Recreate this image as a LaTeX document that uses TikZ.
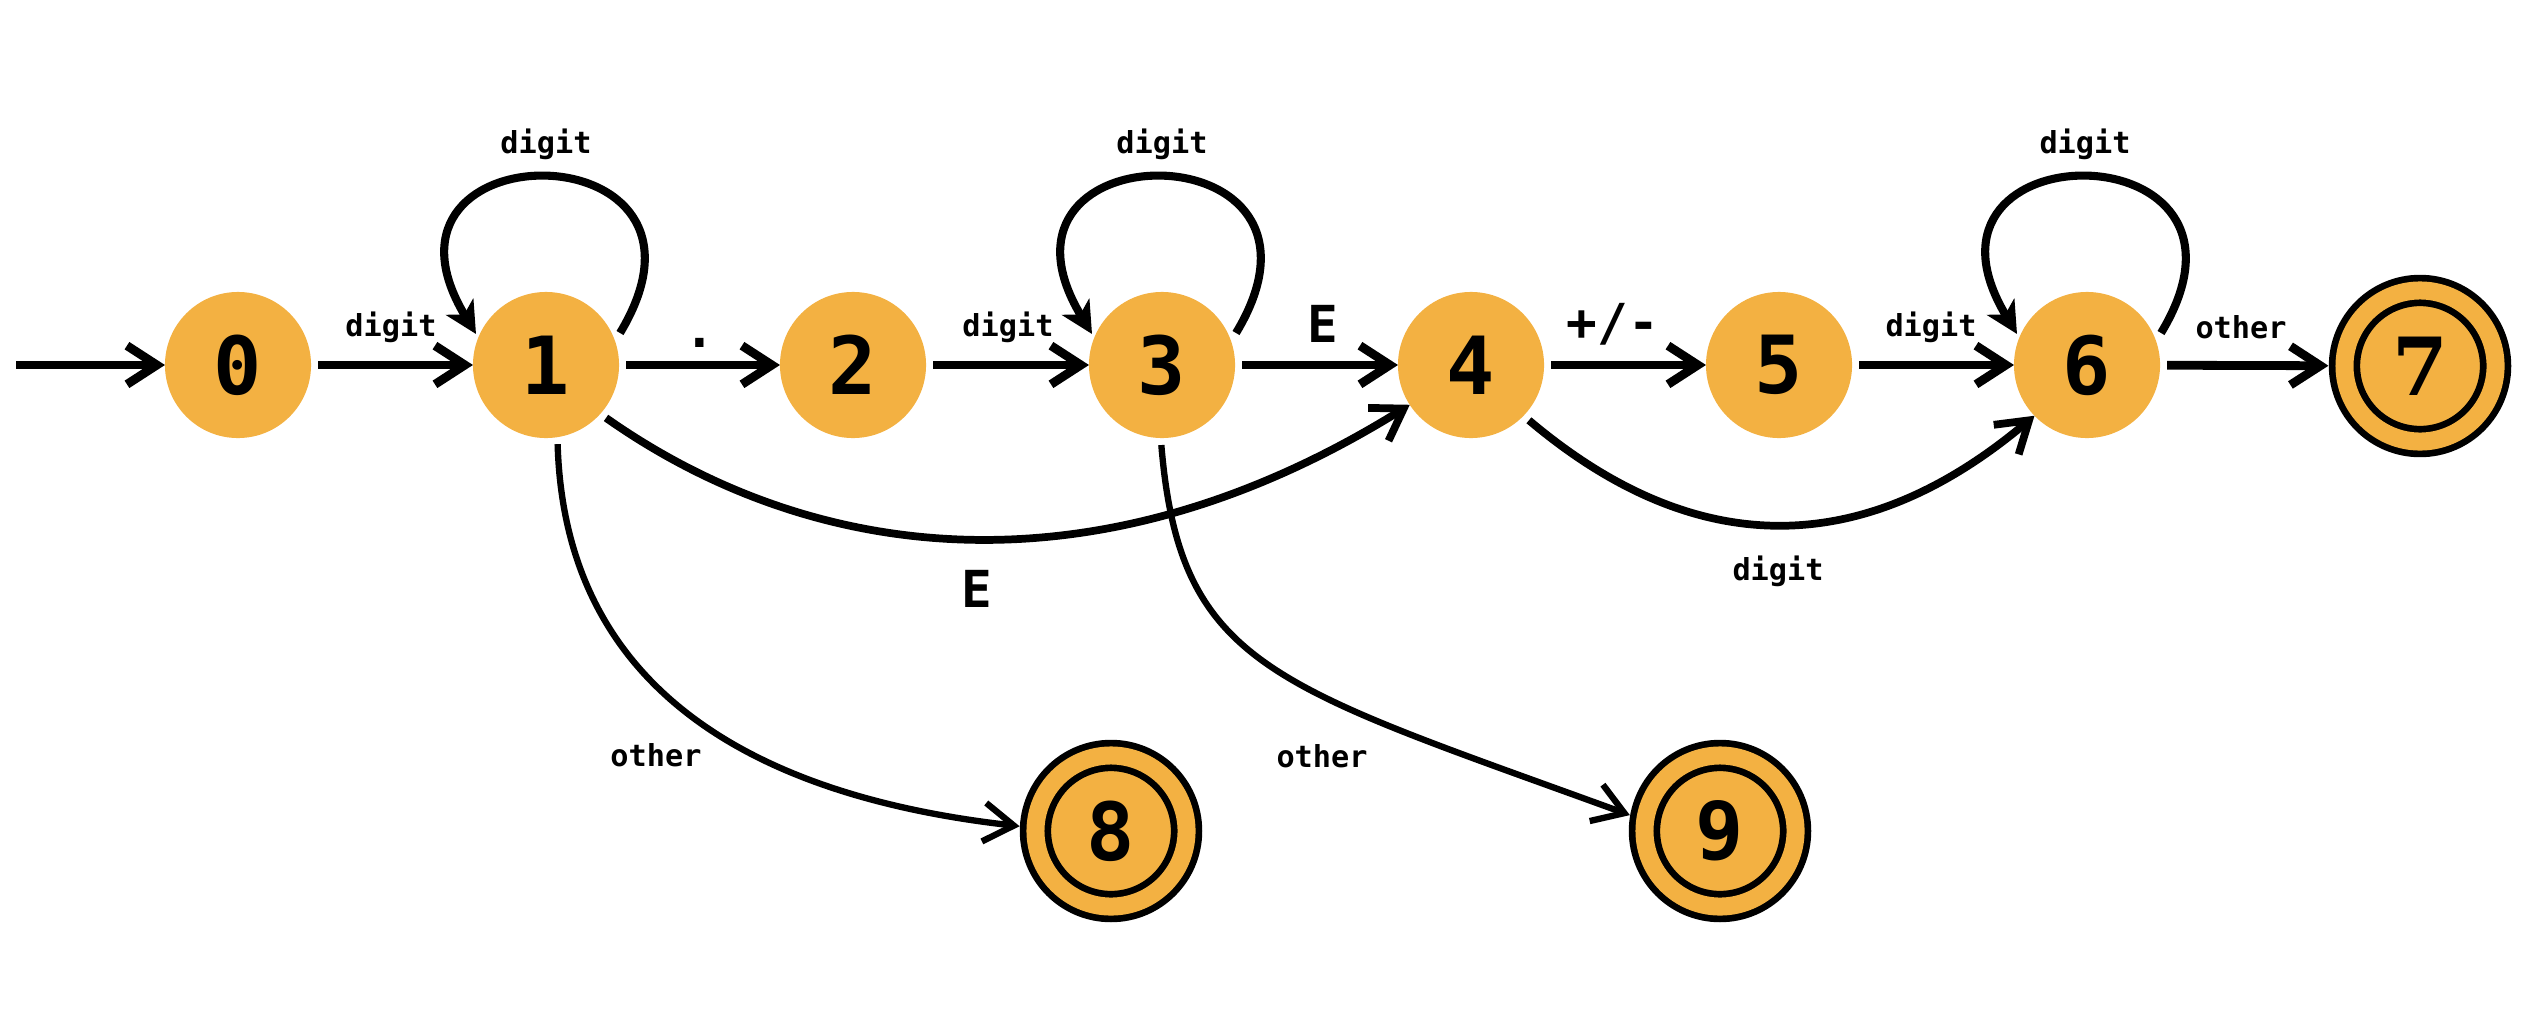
\documentclass[tikz,border=0pt]{standalone}
\usepackage{fontspec}
\setmonofont{DejaVu Sans Mono}
\newfontfamily\sevenfont{DejaVu Serif}
\usetikzlibrary{arrows.meta,calc}
\definecolor{stfill}{HTML}{F3B142}
\newcommand\statefont{\fontsize{22.8}{26}\selectfont\ttfamily\bfseries}
\newcommand\lblfont{\fontsize{8.6}{10}\selectfont\ttfamily\bfseries}
\newcommand\bigfont{\fontsize{14.5}{16}\selectfont\ttfamily\bfseries}
\begin{document}
\begin{tikzpicture}[x=0.01cm,y=0.01cm,
  state/.style={circle,fill=stfill,minimum size=1.46cm,inner sep=0pt,outer sep=0pt,font=\statefont},
  accept/.style={circle,fill=stfill,draw=black,line width=1.9pt,double=stfill,double distance=0.18cm,minimum size=1.51cm,inner sep=0pt,outer sep=0.16cm,font=\statefont},
  edge/.style={line width=2.5pt,-{Straight Barb[length=8.5pt,width=11pt]},shorten <=2pt},
  curve/.style={edge,line width=2.2pt},
  thincurve/.style={edge,line width=1.8pt},
  loopedge/.style={line width=2.3pt,-{Stealth[length=9pt,width=9pt,inset=2.5pt]}},
  lbl/.style={font=\lblfont,inner sep=0pt},
  big/.style={font=\bigfont,inner sep=0pt}]
\useasboundingbox (0,0) rectangle (2534,-1012);
% states
\node[state] (n0) at (238,-365) {0};
\node[state] (n1) at (546,-365) {1};
\node[state] (n2) at (853,-365) {2};
\node[state] (n3) at (1162,-365) {3};
\node[state] (n4) at (1471,-365) {4};
\node[state] (n5) at (1779,-365) {5};
\node[state] (n6) at (2087,-365) {6};
\node[accept] (n7) at (2420,-366) {\sevenfont\bfseries 7};
\node[accept] (n8) at (1111,-831) {8};
\node[accept] (n9) at (1720,-831) {9};
\coordinate (start) at (16,-365);
% straight edges
\draw[edge,shorten <=0pt] (start) -- (n0);
\draw[edge] (n0) -- (n1);
\draw[edge] (n1) -- (n2);
\draw[edge] (n2) -- (n3);
\draw[edge] (n3) -- (n4);
\draw[edge] (n4) -- (n5);
\draw[edge] (n5) -- (n6);
\draw[edge] (n6) -- (n7);
% loops
\foreach \n in {n1,n3,n6}{
  \draw[loopedge] ($(\n)+(74,32)$) .. controls ($(\n)+(199,239)$) and ($(\n)+(-195,239)$) .. ($(\n)+(-70,31)$);
}
% curved edges
\draw[curve] (n1.-42) .. controls (812,-563) and (1096,-600) .. (n4.-147);
\draw[curve] (n4.-44) .. controls (1693,-559) and (1861,-562) .. (n6.-136);
\draw[thincurve] (n1.-81) .. controls (565,-700) and (770,-798) .. (n8.177);
\draw[thincurve] (n3.-91) .. controls (1180,-668) and (1273,-685) .. (n9.170);
% labels
\node[lbl] (l01) at (391,-327) {digit};
\node[lbl] (l11) at (546,-144) {digit};
\node[big] (l12) at (700,-343) {.};
\node[lbl] (l23) at (1008,-327) {digit};
\node[lbl] (l33) at (1162,-144) {digit};
\node[big] (l34) at (1323,-324) {E};
\node[big] (l45) at (1613,-324) {+/-};
\node[lbl] (l56) at (1931,-327) {digit};
\node[lbl] (l66) at (2085,-144) {digit};
\node[lbl] (l67) at (2241,-327) {other};
\node[big] (l14) at (977,-589) {E};
\node[lbl] (l46) at (1778,-571) {digit};
\node[lbl] (l18) at (656,-755) {other};
\node[lbl] (l39) at (1322,-756) {other};
\end{tikzpicture}
\end{document}
